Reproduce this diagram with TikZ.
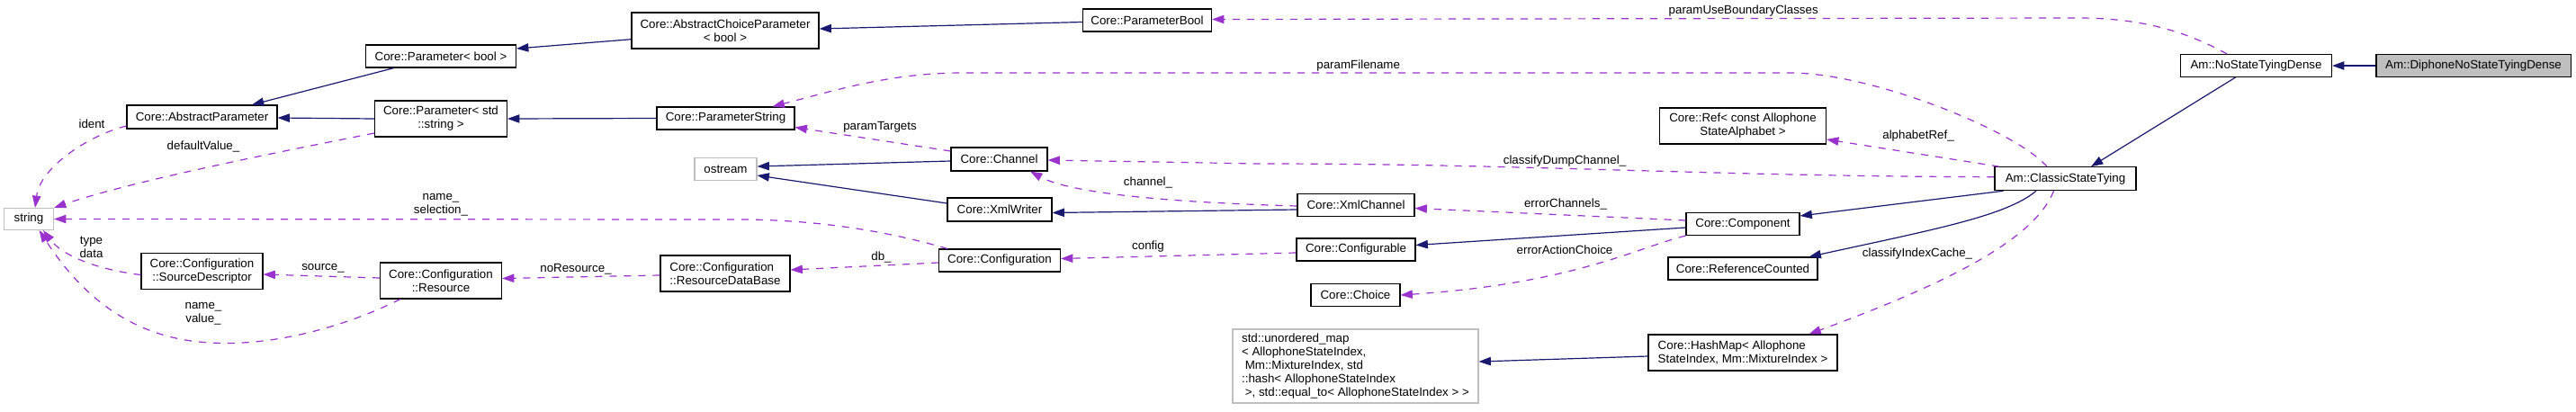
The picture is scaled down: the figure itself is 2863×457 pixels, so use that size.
\documentclass[tikz,border=0pt]{standalone}
\usepackage{fontspec}
\setmainfont{Liberation Sans}
\usetikzlibrary{arrows.meta,calc}
\definecolor{navy}{HTML}{191970}
\definecolor{orch}{HTML}{9A32CD}
\definecolor{grayb}{HTML}{BFBFBF}
\begin{document}
\begin{tikzpicture}[x=0.75pt,y=-0.75pt,
  font=\fontsize{10}{11.25}\selectfont,
  cls/.style={draw=black, line width=0.8pt, fill=white, inner sep=0pt, align=center},
  ext/.style={draw=grayb, line width=0.8pt, fill=white, inner sep=0pt, align=center},
  wh/.style 2 args={minimum width=#1*0.75pt, minimum height=#2*0.75pt},
  inh/.style={draw=navy, line width=0.9pt, -{Triangle[length=10pt,width=7pt]}},
  use/.style={draw=orch, line width=0.9pt, dash pattern=on 6pt off 6pt, -{Triangle[length=10pt,width=7pt]}},
  lbl/.style={inner sep=0pt, align=center, text=black}
]
\useasboundingbox[fill=white] (0,0) rectangle (2863,457);

% nodes
\node[cls,wh={216}{25},fill=grayb] (diph) at (2749,73) {Am::DiphoneNoStateTyingDense};
\node[cls,wh={168}{25}] (nstd) at (2507.5,73) {Am::NoStateTyingDense};
\node[cls,wh={157}{26}] (cst) at (2295.5,198.7) {Am::ClassicStateTying};
\node[cls,wh={185}{40}] (refab) at (1937,140) {Core::Ref< const Allophone\\StateAlphabet >};
\node[cls,wh={126}{25}] (comp) at (1937,249) {Core::Component};
\node[cls,wh={166}{25}] (refc) at (1937,298.5) {Core::ReferenceCounted};
\node[cls,wh={210}{40},align=left] (hm) at (1937,392) {Core::HashMap< Allophone\\StateIndex, Mm::MixtureIndex >};
\node[cls,wh={143}{25}] (pb) at (1275,22.5) {Core::ParameterBool};
\node[cls,wh={130}{25}] (xmlc) at (1507,228) {Core::XmlChannel};
\node[cls,wh={132}{25}] (cfg) at (1507,277.5) {Core::Configurable};
\node[cls,wh={99}{25}] (choice) at (1506.5,328) {Core::Choice};
\node[ext,wh={273}{82},align=left] (umap) at (1506.5,407) {std::unordered\_map\\< AllophoneStateIndex,\\\ Mm::MixtureIndex, std\\::hash< AllophoneStateIndex\\\ >, std::equal\_to< AllophoneStateIndex > >};
\node[cls,wh={107}{26}] (chan) at (1110.5,177) {Core::Channel};
\node[cls,wh={116}{26}] (xmlw) at (1111,233) {Core::XmlWriter};
\node[cls,wh={135}{25}] (conf) at (1111,289.5) {Core::Configuration};
\node[cls,wh={208}{40}] (acp) at (806,34) {Core::AbstractChoiceParameter\\< bool >};
\node[cls,wh={153}{25}] (pstring) at (806.5,131.5) {Core::ParameterString};
\node[ext,wh={69}{25}] (ostream) at (806.5,188) {ostream};
\node[cls,wh={144}{40},align=left] (rdb) at (806,304) {Core::Configuration\\::ResourceDataBase};
\node[cls,wh={167}{25}] (pbool) at (490,62.5) {Core::Parameter< bool >};
\node[cls,wh={147}{40}] (pstr) at (490,132) {Core::Parameter< std\\::string >};
\node[cls,wh={135}{40}] (res) at (490,312) {Core::Configuration\\::Resource};
\node[cls,wh={167}{26}] (absp) at (224.5,130) {Core::AbstractParameter};
\node[cls,wh={135}{40}] (sd) at (224.5,301.5) {Core::Configuration\\::SourceDescriptor};
\node[ext,wh={55}{24}] (str) at (32,243.5) {string};

% edges
\draw[inh] (diph.west) -- (nstd.east);
\draw[inh] ($(nstd.south)+(-23,0)$) -- ($(cst.north)+(28.5,0)$);
\draw[use] ($(nstd.north)+(-32.5,0)$) .. controls (2430,35) and (2380,20) .. (2310,20) -- ($(pb.east)+(0,-1)$);
\draw[use] ($(cst.north)+(-20.5,0)$) .. controls (2240,145) and (2080,81) .. (1990,81) -- (1070,81) .. controls (990,81) and (930,100) .. ($(pstring.north)+(52,0)$);
\draw[use] ($(cst.north)+(-73.5,0)$) -- ($(refab.east)+(0,15)$);
\draw[use] ($(cst.west)+(0,-2)$) .. controls (1900,196) and (1700,182) .. (1400,182) -- ($(chan.east)+(0,1)$);
\draw[inh] ($(cst.south)+(-69,0)$) -- ($(comp.east)+(0,-9)$);
\draw[inh] ($(cst.south)+(-32.5,0)$) .. controls (2230,240) and (2150,255) .. ($(refc.north east)+(-10,0)$);
\draw[use] ($(cst.south)+(-13,0)$) .. controls (2260,270) and (2150,320) .. ($(hm.north)+(73.5,0)$);
\draw[inh] ($(hm.west)+(0,4)$) -- ($(umap.east)+(0,-5)$);
\draw[use] ($(comp.west)+(0,-4)$) -- ($(xmlc.east)+(0,3.5)$);
\draw[inh] ($(comp.west)+(0,4)$) -- ($(cfg.east)+(0,-5)$);
\draw[use] (comp.south west) .. controls (1820,275) and (1750,315) .. (choice.east);
\draw[inh] ($(xmlc.west)+(0,5)$) -- ($(xmlw.east)+(0,3.5)$);
\draw[use] ($(xmlc.west)+(0,1)$) .. controls (1300,225) and (1190,215) .. ($(chan.south)+(34.5,0)$);
\draw[use] ($(cfg.west)+(0,3.5)$) -- ($(conf.east)+(0,-2)$);
\draw[use] ($(conf.west)+(0,2.5)$) -- ($(rdb.east)+(0,-4)$);
\draw[use] ($(conf.north)+(-58,0)$) .. controls (980,255) and (900,244) .. (820,244) -- (str.east);
\draw[use] ($(rdb.west)+(0,2)$) -- ($(res.east)+(0,-2.5)$);
\draw[use] ($(res.west)+(0,-3)$) -- ($(sd.east)+(0,3.5)$);
\draw[use] ($(sd.west)+(0,4)$) .. controls (110,300) and (70,285) .. ($(str.south)+(16,0)$);
\draw[use] ($(res.south)+(-45,0)$) .. controls (380,365) and (300,385) .. (235,381) .. controls (140,377) and (85,320) .. ($(str.south)+(11.6,0)$);
\draw[use] ($(absp.west)+(0,10)$) .. controls (100,150) and (45,185) .. ($(str.north)+(7,0)$);
\draw[use] ($(pstr.west)+(0,16)$) .. controls (330,165) and (150,200) .. (str.north east);
\draw[inh] (pstr.west) -- ($(absp.east)+(0,1)$);
\draw[inh] ($(pbool.south)+(-52,0)$) -- ($(absp.north)+(55.5,0)$);
\draw[inh] ($(acp.west)+(0,9.7)$) -- ($(pbool.east)+(0,-8.5)$);
\draw[inh] ($(pb.west)+(0,2)$) -- ($(acp.east)+(0,-2)$);
\draw[inh] (pstring.west) -- (pstr.east);
\draw[use] ($(chan.west)+(0,-9)$) -- ($(pstring.east)+(0,10)$);
\draw[inh] ($(chan.west)+(0,2)$) -- ($(ostream.east)+(0,-3)$);
\draw[inh] ($(xmlw.west)+(0,-7)$) -- ($(ostream.east)+(0,7)$);

% labels
\node[lbl] (l1) at (1937.7,11.7) {paramUseBoundaryClasses};
\node[lbl] (l2) at (1509.7,72.7) {paramFilename};
\node[lbl] (l3) at (2132,151) {alphabetRef\_};
\node[lbl] (l4) at (1739,179) {classifyDumpChannel\_};
\node[lbl] (l5) at (2131,282.5) {classifyIndexCache\_};
\node[lbl] (l6) at (1740,226.6) {errorChannels\_};
\node[lbl] (l7) at (1739,277.6) {errorActionChoice};
\node[lbl] (l8) at (1276,203) {channel\_};
\node[lbl] (l9) at (1276,273.6) {config};
\node[lbl] (l10) at (979.5,285.8) {db\_};
\node[lbl] (l11) at (490,227.5) {name\_\\selection\_};
\node[lbl] (l12) at (640,299) {noResource\_};
\node[lbl] (l13) at (359,298) {source\_};
\node[lbl] (l14) at (101.5,275) {type\\data};
\node[lbl] (l15) at (226,348.5) {name\_\\value\_};
\node[lbl] (l16) at (102,138) {ident};
\node[lbl] (l17) at (226,163) {defaultValue\_};
\node[lbl] (l18) at (978,141) {paramTargets};
\end{tikzpicture}
\end{document}
